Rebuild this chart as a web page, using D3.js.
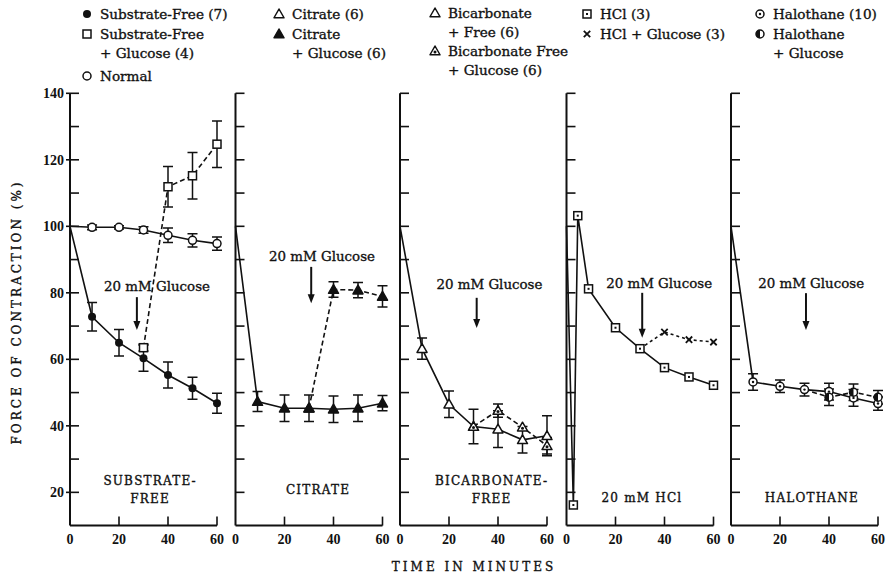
<!DOCTYPE html>
<html>
<head>
<meta charset="utf-8">
<script src="https://cdn.jsdelivr.net/npm/d3@7"></script>
<style>
    body { margin: 0; background: #fff; }
    text { font-family: "DejaVu Serif", serif; fill: #111; stroke: #111; stroke-width: 0.35px; }
    text.num { stroke-width: 0; }
</style>
</head>
<body>
<svg id="chart" width="886" height="575"></svg>
<script>
// sampling times (min) as drawn in the figure
const TIMES = [0, 9, 20, 30, 40, 50, 60];
const GLUCOSE_TIMES = [30, 40, 50, 60];
const HCL_TIMES = [0, 2.8, 4.6, 9, 20, 30, 40, 50, 60];

// substrate-free panel
const subFree = [100, 72.8, 65, 60.3, 55.3, 51.3, 46.8];
const subFreeErr = [0, 4.3, 4, 3.9, 3.9, 3.3, 3];
const subFreeGlu = [63.5, 111.9, 115.2, 124.7];
const subFreeGluErr = [1, 6.1, 7, 7];
const normal = [100, 99.7, 99.7, 98.9, 97.3, 95.8, 94.8];
const normalErr = [0, 0.7, 0.5, 1, 2.2, 2, 2];

// citrate panel
const citrate = [100, 47.3, 45.3, 45.3, 45, 45.3, 46.8];
const citrateErr = [0, 3, 4, 4, 4, 4, 2.3];
const citrateGlu = [45.3, 81, 80.8, 78.9];
const citrateGluErr = [0, 2.3, 2.3, 3.2];

// bicarbonate-free panel
const bicarb = [100, 63.2, 46.5, 39.8, 39, 35.8, 37];
const bicarbErr = [0, 3.2, 4, 5.2, 5.5, 4, 6];
const bicarbGlu = [39.8, 44.6, 39.6, 34];
const bicarbGluErr = [0, 2, 0, 2.5];

// HCl panel (no error bars)
const hcl = [100, 16.2, 103.2, 81.2, 69.5, 63.2, 57.5, 54.7, 52.2];
const hclGlu = [63.2, 68.2, 65.9, 65.2];

// halothane panel
const halothane = [100, 53.2, 51.9, 50.9, 50.3, 48.4, 46.7];
const halothaneErr = [0, 2.5, 1.9, 1.9, 2.5, 2.5, 2];
const halothaneGlu = [50.9, 48.6, 50.1, 48.6];
const halothaneGluErr = [0, 2.5, 2.5, 2];

const Y_TICKS = d3.range(20, 141, 10);
const Y_LABELS = [20, 40, 60, 80, 100, 120, 140];
const X_TICKS = [0, 20, 40, 60];

const panels = [
    {
        label: ["SUBSTRATE-", "FREE"], labelAt: [32.7, 23.6],
        note: {textAt: [35.5, 82.1], arrowT: 27.3, from: 78.7, to: 68.8},
        series: [
            {t: TIMES, v: subFree, e: subFreeErr, marker: "dot"},
            {t: TIMES, v: normal, e: normalErr, marker: "circle"},
            {t: GLUCOSE_TIMES, v: subFreeGlu, e: subFreeGluErr, marker: "square", dash: "5,3"}
        ]
    },
    {
        label: ["CITRATE"], labelAt: [33.7, 20.7],
        note: {textAt: [35.3, 91.1], arrowT: 30.9, from: 87.8, to: 76.9},
        series: [
            {t: TIMES, v: citrate, e: citrateErr, marker: "tri"},
            {t: GLUCOSE_TIMES, v: citrateGlu, e: citrateGluErr, marker: "tri", dash: "5,3"}
        ]
    },
    {
        label: ["BICARBONATE-", "FREE"], labelAt: [37.4, 23.6],
        note: {textAt: [36.5, 82.7], arrowT: 31.3, from: 78.5, to: 69.4},
        series: [
            {t: TIMES, v: bicarb, e: bicarbErr, marker: "triOpen"},
            {t: GLUCOSE_TIMES, v: bicarbGlu, e: bicarbGluErr, marker: "triDot", dash: "5,3"}
        ]
    },
    {
        label: ["20 mM HCl"], labelAt: [30.8, 18.4],
        note: {textAt: [37.8, 83], arrowT: 30.9, from: 80, to: 66.5},
        series: [
            {t: HCL_TIMES, v: hcl, marker: "sqDot"},
            {t: GLUCOSE_TIMES, v: hclGlu, marker: "cross", dash: "3,3", noFirst: true}
        ]
    },
    {
        label: ["HALOTHANE"], labelAt: [33, 18.4],
        note: {textAt: [32.7, 82.9], arrowT: 30.6, from: 79.9, to: 68.8},
        series: [
            {t: TIMES, v: halothane, e: halothaneErr, marker: "circDot"},
            {t: GLUCOSE_TIMES, v: halothaneGlu, e: halothaneGluErr, marker: "half", dash: "5,3", noFirst: true}
        ]
    }
];

const legend = [
    {x: 87, y: 14, marker: "dot", lines: ["Substrate-Free (7)"]},
    {x: 87, y: 34, marker: "square", lines: ["Substrate-Free", "+ Glucose (4)"]},
    {x: 87, y: 76, marker: "circle", lines: ["Normal"]},
    {x: 279, y: 14, marker: "triOpen", lines: ["Citrate (6)"]},
    {x: 279, y: 34, marker: "tri", lines: ["Citrate", "+ Glucose (6)"]},
    {x: 435, y: 13, marker: "triOpen", lines: ["Bicarbonate", "+ Free (6)"]},
    {x: 435, y: 51, marker: "triDot", lines: ["Bicarbonate Free", "+ Glucose (6)"]},
    {x: 587, y: 14, marker: "sqDot", lines: ["HCl (3)"]},
    {x: 587, y: 34, marker: "cross", lines: ["HCl + Glucose (3)"]},
    {x: 760, y: 14, marker: "circDot", lines: ["Halothane (10)"]},
    {x: 760, y: 34, marker: "half", lines: ["Halothane", "+ Glucose"]}
];

const PANEL_X = [70, 235.5, 400, 566.5, 731];
const PANEL_W = 147;
const INK = "#111";

const svg = d3.select("#chart");
const y = d3.scaleLinear().domain([10, 140]).range([525.6, 93.3]);

function drawMarker(g, type, cx, cy) {
    const r = 4;
    if (type === "dot") {
        g.append("circle").attr("cx", cx).attr("cy", cy).attr("r", r).attr("fill", INK);
    } else if (type === "circle" || type === "circDot" || type === "half") {
        g.append("circle").attr("cx", cx).attr("cy", cy).attr("r", r)
            .attr("fill", "#fff").attr("stroke", INK).attr("stroke-width", 1.5);
        if (type === "circDot") {
            g.append("circle").attr("cx", cx).attr("cy", cy).attr("r", 1.2).attr("fill", INK);
        }
        if (type === "half") {
            g.append("path")
                .attr("d", d3.arc().innerRadius(0).outerRadius(r)({startAngle: Math.PI, endAngle: 2 * Math.PI}))
                .attr("transform", `translate(${cx},${cy})`).attr("fill", INK);
        }
    } else if (type === "square" || type === "sqDot") {
        g.append("rect").attr("x", cx - r).attr("y", cy - r).attr("width", 2 * r).attr("height", 2 * r)
            .attr("fill", "#fff").attr("stroke", INK).attr("stroke-width", 1.5);
        if (type === "sqDot") {
            g.append("rect").attr("x", cx - 1).attr("y", cy - 1).attr("width", 2).attr("height", 2).attr("fill", INK);
        }
    } else if (type === "tri" || type === "triOpen" || type === "triDot") {
        const s = 5;
        g.append("path")
            .attr("d", `M${cx},${cy - s}L${cx + s},${cy + s * 0.75}L${cx - s},${cy + s * 0.75}Z`)
            .attr("fill", type === "tri" ? INK : "#fff")
            .attr("stroke", INK).attr("stroke-width", 1.5).attr("stroke-linejoin", "round");
        if (type === "triDot") {
            g.append("circle").attr("cx", cx).attr("cy", cy + 1).attr("r", 1.5).attr("fill", INK);
        }
    } else if (type === "cross") {
        const s = 3.2;
        g.append("path")
            .attr("d", `M${cx - s},${cy - s}L${cx + s},${cy + s}M${cx - s},${cy + s}L${cx + s},${cy - s}`)
            .attr("stroke", INK).attr("stroke-width", 1.8);
    }
}

panels.forEach((p, i) => {
    const x = d3.scaleLinear().domain([0, 60]).range([PANEL_X[i], PANEL_X[i] + PANEL_W]);
    const g = svg.append("g");

    // axes
    g.append("line").attr("x1", x(0)).attr("x2", x(0)).attr("y1", y(140)).attr("y2", y(10))
        .attr("stroke", INK).attr("stroke-width", 2);
    g.append("line").attr("x1", x(0)).attr("x2", x(60)).attr("y1", y(10)).attr("y2", y(10))
        .attr("stroke", INK).attr("stroke-width", 2);
    g.selectAll(".ytick").data(Y_TICKS).enter().append("line")
        .attr("x1", d => (i === 0 && Y_LABELS.includes(d)) ? x(0) - 4 : x(0))
        .attr("x2", x(0) + 9)
        .attr("y1", d => y(d)).attr("y2", d => y(d))
        .attr("stroke", INK).attr("stroke-width", 1.6);
    g.selectAll(".xtick").data(X_TICKS.slice(1)).enter().append("line")
        .attr("x1", d => x(d)).attr("x2", d => x(d))
        .attr("y1", y(10)).attr("y2", y(10) - 9)
        .attr("stroke", INK).attr("stroke-width", 1.6);
    g.selectAll(".xlabel").data(X_TICKS).enter().append("text")
        .attr("class", "num")
        .attr("x", d => x(d)).attr("y", 544)
        .attr("text-anchor", "middle")
        .style("font-family", "Liberation Serif").style("font-weight", "bold").style("font-size", "14px")
        .text(d => d);
    if (i === 0) {
        g.selectAll(".ylabel").data(Y_LABELS).enter().append("text")
            .attr("class", "num")
            .attr("x", x(0) - 6).attr("y", d => y(d)).attr("dy", "0.35em")
            .attr("text-anchor", "end")
            .style("font-family", "Liberation Serif").style("font-weight", "bold").style("font-size", "14px")
            .text(d => d);
    }

    // panel label
    p.label.forEach((s, k) => {
        g.append("text").attr("x", x(p.labelAt[0])).attr("y", y(p.labelAt[1]) + k * 18)
            .attr("text-anchor", "middle").attr("dy", "0.35em")
            .style("font-size", "12px").style("letter-spacing", "1.2px")
            .text(s);
    });

    // glucose note and arrow
    g.append("text").attr("x", x(p.note.textAt[0])).attr("y", y(p.note.textAt[1]))
        .attr("dy", "0.35em").attr("text-anchor", "middle")
        .style("font-size", "13.4px")
        .text("20 mM Glucose");
    const ax = x(p.note.arrowT);
    g.append("line").attr("x1", ax).attr("x2", ax)
        .attr("y1", y(p.note.from)).attr("y2", y(p.note.to) - 6)
        .attr("stroke", INK).attr("stroke-width", 2);
    g.append("path")
        .attr("d", `M${ax - 3.5},${y(p.note.to) - 9}L${ax + 3.5},${y(p.note.to) - 9}L${ax},${y(p.note.to)}Z`)
        .attr("fill", INK);

    // lines
    p.series.forEach(s => {
        const pts = s.t.map((t, k) => [t, s.v[k]]);
        g.append("path")
            .attr("d", d3.line().x(d => x(d[0])).y(d => y(d[1]))(pts))
            .attr("fill", "none").attr("stroke", INK).attr("stroke-width", 1.6)
            .attr("stroke-dasharray", s.dash || null);
    });
    // error bars
    p.series.forEach(s => {
        if (!s.e) return;
        s.t.forEach((t, k) => {
            const e = s.e[k];
            if (!e) return;
            const cx = x(t), y1 = y(s.v[k] - e), y2 = y(s.v[k] + e);
            g.append("path")
                .attr("d", `M${cx},${y1}V${y2}M${cx - 5},${y1}H${cx + 5}M${cx - 5},${y2}H${cx + 5}`)
                .attr("fill", "none").attr("stroke", INK).attr("stroke-width", 1.5);
        });
    });
    // markers
    p.series.forEach(s => {
        s.t.forEach((t, k) => {
            if (t === 0) return;
            if (s.noFirst && k === 0) return;
            drawMarker(g, s.marker, x(t), y(s.v[k]));
        });
    });
});

// axis titles
svg.append("text").attr("transform", `translate(17,312) rotate(-90)`)
    .attr("text-anchor", "middle").attr("dy", "0.35em")
    .style("font-size", "12px").style("letter-spacing", "3px")
    .text("FORCE OF CONTRACTION (%)");
svg.append("text").attr("x", 474).attr("y", 567)
    .attr("text-anchor", "middle").attr("dy", "0.35em")
    .style("font-size", "12px").style("letter-spacing", "3px")
    .text("TIME IN MINUTES");

// legend
const lg = svg.append("g");
legend.forEach(d => {
    drawMarker(lg, d.marker, d.x, d.y);
    d.lines.forEach((s, k) => {
        lg.append("text").attr("x", d.x + 13).attr("y", d.y + k * 19)
            .attr("dy", "0.35em").style("font-size", "13.6px")
            .text(s);
    });
});
</script>
</body>
</html>
